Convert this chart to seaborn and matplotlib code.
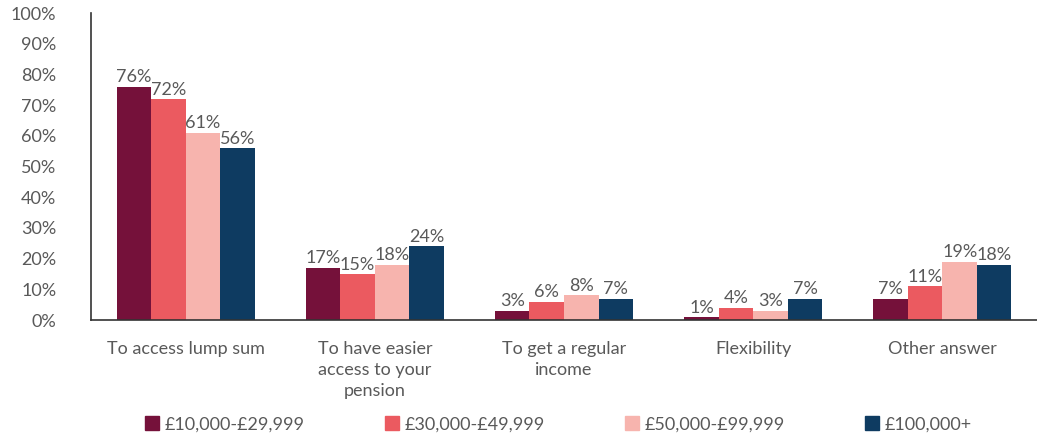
import matplotlib.pyplot as plt
import matplotlib.ticker as mticker
import seaborn as sns
import pandas as pd

# Chart data
categories = ['To access lump sum', 'To have easier\naccess to your\npension',
              'To get a regular\nincome', 'Flexibility', 'Other answer']
bands = ['£10,000-£29,999', '£30,000-£49,999', '£50,000-£99,999', '£100,000+']
band_10k = [76, 17, 3, 1, 7]
band_30k = [72, 15, 6, 4, 11]
band_50k = [61, 18, 8, 3, 19]
band_100k = [56, 24, 7, 7, 18]
colors = ['#75113A', '#EB5A60', '#F7B4AE', '#0E3B61']

rows = []
for band, vals in zip(bands, [band_10k, band_30k, band_50k, band_100k]):
    for cat, v in zip(categories, vals):
        rows.append({'category': cat, 'band': band, 'value': v})
df = pd.DataFrame(rows)

sns.set_theme(style='white')
plt.rcParams['font.family'] = ['Lato', 'DejaVu Sans']
text_col = '#595959'
fs = 13

fig = plt.figure(figsize=(10.37, 4.36), dpi=100)
ax = fig.add_axes([0.0878, 0.266, 0.9122, 0.704])

sns.barplot(data=df, x='category', y='value', hue='band', order=categories,
            hue_order=bands, palette=colors, width=0.73, gap=0, saturation=1,
            linewidth=0, edgecolor='none', ax=ax, legend=False)

for cont in ax.containers:
    ax.bar_label(cont, fmt='%d%%', padding=1, fontsize=fs, color=text_col)

ax.set_ylim(0, 100)
ax.set_xlim(-0.5, 4.466)
ax.yaxis.set_major_locator(mticker.MultipleLocator(10))
ax.yaxis.set_major_formatter(mticker.FuncFormatter(lambda v, p: f'{v:.0f}%'))
ax.set_xlabel('')
ax.set_ylabel('')

# category separators as minor ticks
ax.set_xticks([i - 0.5 for i in range(6)], minor=True)
ax.tick_params(axis='x', which='major', length=0, pad=15, labelsize=fs, labelcolor=text_col)
ax.tick_params(axis='x', which='minor', length=10, width=1.2, color='#333333', direction='out')
ax.tick_params(axis='y', length=14, width=1.2, color='#333333', labelsize=fs,
               labelcolor=text_col, pad=11)
for lbl in ax.get_xticklabels():
    lbl.set_linespacing(1.4)

for side in ['top', 'right']:
    ax.spines[side].set_visible(False)
for side in ['left', 'bottom']:
    ax.spines[side].set_color('#333333')
    ax.spines[side].set_linewidth(1.2)

# legend entries at evenly spaced positions
for i, (band, c) in enumerate(zip(bands, colors)):
    x = (145 + 240 * i) / 1037
    fig.legend([plt.Rectangle((0, 0), 1, 1, color=c)], [band], loc='center left',
               bbox_to_anchor=(x, 0.027), frameon=False, fontsize=fs,
               labelcolor=text_col, handlelength=0.75, handleheight=0.75,
               handletextpad=0.35, borderpad=0, borderaxespad=0)

fig.savefig('out.png', dpi=100)
